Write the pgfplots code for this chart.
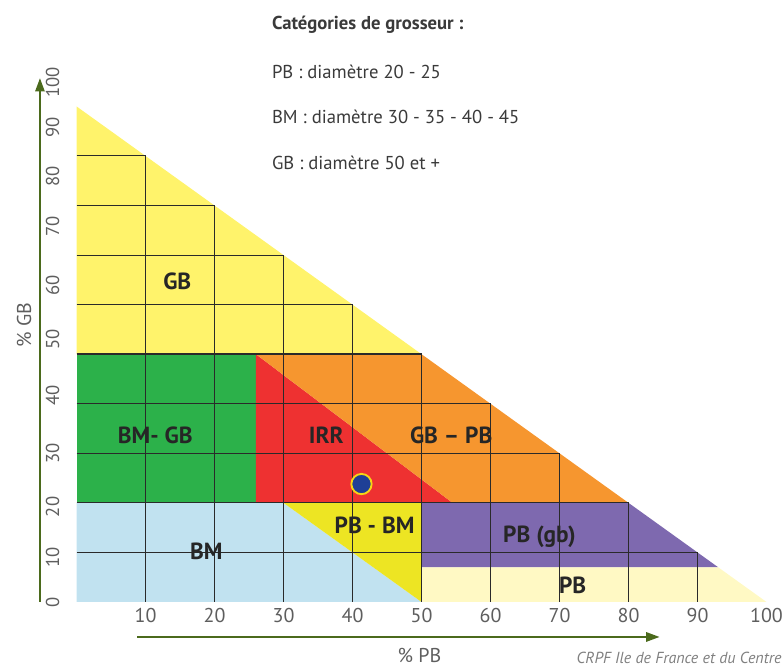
\documentclass[border=0pt]{standalone}
\usepackage{fontspec}
\setmainfont{PT Sans}
\usepackage{pgfplots}
\pgfplotsset{compat=1.18}
\usetikzlibrary{arrows.meta}
\definecolor{cGB}{HTML}{FFF36B}
\definecolor{cGreen}{HTML}{2CB14A}
\definecolor{cRed}{HTML}{EE3131}
\definecolor{cOrange}{HTML}{F6962F}
\definecolor{cPBBM}{HTML}{EDE523}
\definecolor{cBlue}{HTML}{C1E2F0}
\definecolor{cPurple}{HTML}{7E69AF}
\definecolor{cPB}{HTML}{FFF9C4}
\definecolor{cDot}{HTML}{1E3F96}
\definecolor{cDotEdge}{HTML}{F5D616}
\definecolor{cArrow}{HTML}{4B6A1C}
\definecolor{cTick}{HTML}{5E5E5E}
\definecolor{cText}{HTML}{3A3A3A}
\definecolor{cGrid}{HTML}{2A2A2A}
\begin{document}
\begin{tikzpicture}
\begin{axis}[
  x=5.175pt, y=3.717pt,
  xmin=0, xmax=100, ymin=0, ymax=106,
  clip=false,
  axis x line*=bottom, axis y line*=left,
  axis line style={draw=none},
  major tick length=0pt,
  no markers,
  /pgf/number format/assume math mode=true,
  xtick={10,20,30,40,50,60,70,80,90,100},
  xticklabels={10,20,30,40,50,60,70,80,90,100},
  xticklabel style={font=\fontsize{15}{15}\selectfont, text=cTick, yshift=-1.5pt},
  ytick={0,9,19.2,29.9,41.6,52.9,63.8,75.7,85.8,95.7,104.9},
  yticklabels={0,10,20,30,40,50,60,70,80,90,100},
  yticklabel style={font=\fontsize{14}{14}\selectfont, text=cTick, rotate=90, anchor=center, xshift=0pt, yshift=18pt},
]
% regions
\addplot[fill=cGB, draw=none] coordinates {(0,50) (0,100) (50,50)} -- cycle;
\addplot[fill=cGreen, draw=none] coordinates {(0,20) (0,50) (26,50) (26,20)} -- cycle;
\addplot[fill=cRed, draw=none] coordinates {(26,20) (26,50) (54.5,20)} -- cycle;
\addplot[fill=cOrange, draw=none] coordinates {(26,50) (50,50) (80,20) (54.5,20)} -- cycle;
\addplot[fill=cBlue, draw=none] coordinates {(0,0) (0,20) (30,20) (50,0)} -- cycle;
\addplot[fill=cPBBM, draw=none] coordinates {(30,20) (50,20) (50,0)} -- cycle;
\addplot[fill=cPurple, draw=none] coordinates {(50,7) (50,20) (80,20) (93,7)} -- cycle;
\addplot[fill=cPB, draw=none] coordinates {(50,0) (50,7) (93,7) (100,0)} -- cycle;
% grid
\addplot[cGrid, line width=0.75pt] coordinates {(0,10) (90,10)};
\addplot[cGrid, line width=0.75pt] coordinates {(0,20) (80,20)};
\addplot[cGrid, line width=0.75pt] coordinates {(0,30) (70,30)};
\addplot[cGrid, line width=0.75pt] coordinates {(0,40) (60,40)};
\addplot[cGrid, line width=0.75pt] coordinates {(0,60) (40,60)};
\addplot[cGrid, line width=0.75pt] coordinates {(0,70) (30,70)};
\addplot[cGrid, line width=0.75pt] coordinates {(0,80) (20,80)};
\addplot[cGrid, line width=0.75pt] coordinates {(0,90) (10,90)};
\addplot[cGrid, line width=0.75pt] coordinates {(10,0) (10,90)};
\addplot[cGrid, line width=0.75pt] coordinates {(20,0) (20,80)};
\addplot[cGrid, line width=0.75pt] coordinates {(30,0) (30,70)};
\addplot[cGrid, line width=0.75pt] coordinates {(40,0) (40,60)};
\addplot[cGrid, line width=0.9pt] coordinates {(50,0) (50,50)};
\addplot[cGrid, line width=0.75pt] coordinates {(60,0) (60,40)};
\addplot[cGrid, line width=0.75pt] coordinates {(70,0) (70,30)};
\addplot[cGrid, line width=0.75pt] coordinates {(80,0) (80,20)};
\addplot[cGrid, line width=0.75pt] coordinates {(90,0) (90,10)};
\addplot[cGrid, line width=1.6pt] coordinates {(0,50) (50,50)};
% point
\addplot[only marks, mark=*, mark size=7.6pt, mark options={fill=cDot, draw=cDotEdge, line width=1.4pt}] coordinates {(41.3,23.8)};
% region labels
\begin{scope}[every node/.style={font=\fontsize{17.5}{17.5}\selectfont\bfseries, text=black!85}]
\node at (axis cs:14.6,64.6) {GB};
\node at (axis cs:11.4,33.7) {BM- GB};
\node at (axis cs:36.2,33.7) {IRR};
\node at (axis cs:54.3,33.7) {GB – PB};
\node at (axis cs:43.2,15.5) {PB - BM};
\node at (axis cs:67.1,13.1) {PB (gb)};
\node at (axis cs:18.8,10.3) {BM};
\node at (axis cs:71.9,3.4) {PB};
\end{scope}
% legend text
\begin{scope}[every node/.style={anchor=west, inner sep=0pt, text=cText, font=\fontsize{14}{14}\selectfont}]
\node[font=\fontsize{14}{14}\selectfont\bfseries] at (axis cs:28.3,116.4) {Catégories de grosseur :};
\node at (axis cs:28.3,106.9) {PB : diamètre 20 - 25};
\node at (axis cs:28.3,97.9) {BM : diamètre 30 - 35 - 40 - 45};
\node at (axis cs:28.3,88.6) {GB : diamètre 50 et +};
\end{scope}
% axis arrows and titles
\draw[cArrow, line width=1.3pt, -{Triangle[length=10pt,width=7pt]}] (axis cs:-5.3,0) -- (axis cs:-5.3,105.7);
\draw[cArrow, line width=1.3pt, -{Triangle[length=10pt,width=7pt]}] (axis cs:8.8,-7.06) -- (axis cs:84.5,-7.06);
\node[rotate=90, text=cTick, font=\fontsize{15}{15}\selectfont] at (axis cs:-7.6,55.9) {\% GB};
\node[text=cTick, font=\fontsize{15}{15}\selectfont, inner sep=0pt] at (axis cs:49.7,-10.7) {\% PB};
\node[anchor=east, inner sep=0pt, text=black!50, font=\fontsize{12}{12}\selectfont\itshape] at (axis cs:102.2,-11.2) {CRPF Ile de France et du Centre};
\coordinate (BL) at (axis cs:-11.09,-12.91);
\coordinate (TR) at (axis cs:102.39,121.47);
\end{axis}
\pgfresetboundingbox
\path[use as bounding box] (BL) rectangle (TR);
\end{tikzpicture}
\end{document}
